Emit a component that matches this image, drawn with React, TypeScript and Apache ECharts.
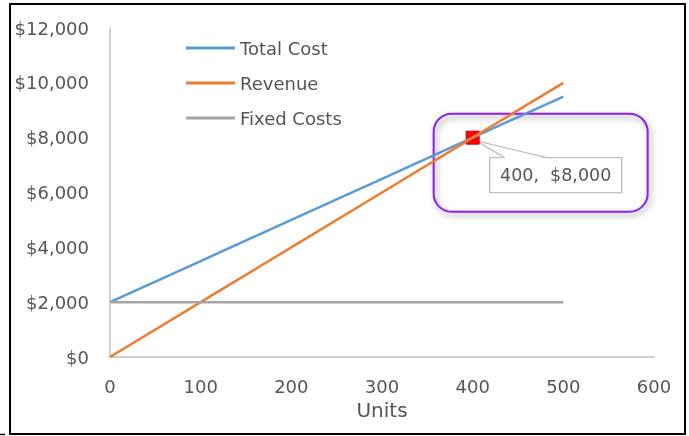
import React, { useEffect, useRef } from "react";
import * as echarts from "echarts";

const units = [0, 100, 200, 300, 400, 500];
const totalCost = [2000, 3500, 5000, 6500, 8000, 9500];
const revenue = [0, 2000, 4000, 6000, 8000, 10000];
const fixedCosts = [2000, 2000, 2000, 2000, 2000, 2000];
const breakEven = [400, 8000];
const seriesNames = ["Total Cost", "Revenue", "Fixed Costs"];
const colors = ["#5b9bd5", "#ed7d31", "#a5a5a5"];

const FONT = "DejaVu Sans";
const TXT = "#555555";

const fmtMoney = (v: number) => "$" + v.toLocaleString("en-US");

export default function App() {
  const ref = useRef<HTMLDivElement>(null);
  useEffect(() => {
    if (!ref.current) return;
    const chart = echarts.init(ref.current, null, { renderer: "svg" });
    const pair = (ys: number[]) => units.map((u, i) => [u, ys[i]]);
    chart.setOption({
      animation: false,
      grid: { left: 110, right: 35, top: 28, bottom: 79 },
      legend: {
        orient: "vertical",
        left: 186,
        top: 37.5,
        padding: 0,
        icon: "rect",
        itemWidth: 49,
        itemHeight: 3,
        itemGap: 14,
        data: seriesNames,
        textStyle: { fontFamily: FONT, fontSize: 18, color: TXT, lineHeight: 21 },
      },
      xAxis: {
        type: "value",
        min: 0,
        max: 600,
        interval: 100,
        name: "Units",
        nameLocation: "middle",
        nameGap: 42,
        nameTextStyle: { fontFamily: FONT, fontSize: 20, color: TXT },
        axisLine: { lineStyle: { color: "#bfbfbf", width: 1.5 } },
        axisTick: { show: false },
        splitLine: { show: false },
        axisLabel: { fontFamily: FONT, fontSize: 18, color: TXT, margin: 20 },
      },
      yAxis: {
        type: "value",
        min: 0,
        max: 12000,
        interval: 2000,
        axisLine: { show: true, lineStyle: { color: "#bfbfbf", width: 1.5 } },
        axisTick: { show: false },
        splitLine: { show: false },
        axisLabel: {
          fontFamily: FONT,
          fontSize: 18,
          color: TXT,
          margin: 21,
          formatter: (v: number) => fmtMoney(v),
        },
      },
      series: [
        {
          name: seriesNames[0],
          type: "line",
          data: pair(totalCost),
          symbol: "none",
          lineStyle: { color: colors[0], width: 2.5 },
          itemStyle: { color: colors[0] },
        },
        {
          name: seriesNames[1],
          type: "line",
          data: pair(revenue),
          symbol: "none",
          lineStyle: { color: colors[1], width: 2.5 },
          itemStyle: { color: colors[1] },
        },
        {
          name: seriesNames[2],
          type: "line",
          data: pair(fixedCosts),
          symbol: "none",
          lineStyle: { color: colors[2], width: 2.5 },
          itemStyle: { color: colors[2] },
        },
      ],
    });

    const [px, py] = chart.convertToPixel({ gridIndex: 0 }, breakEven) as number[];
    const boxL = px + 17;
    const boxT = py + 20;
    const boxW = 132;
    const boxH = 35;
    chart.setOption({
      graphic: [
        {
          type: "rect",
          shape: { x: 10, y: 4, width: 675, height: 430 },
          style: { fill: "none", stroke: "#000", lineWidth: 2 },
          silent: true,
        },
        {
          type: "line",
          shape: { x1: 0, y1: 434.5, x2: 5, y2: 434.5 },
          style: { stroke: "#000", lineWidth: 1.5 },
          silent: true,
        },
        {
          type: "rect",
          shape: { x: px - 39, y: py - 24, width: 214, height: 98, r: 18 },
          style: {
            fill: "none",
            stroke: "#8a1cf5",
            lineWidth: 2,
            shadowBlur: 6,
            shadowColor: "rgba(0,0,0,0.45)",
            shadowOffsetX: 2,
            shadowOffsetY: 3,
          },
          silent: true,
        },
        {
          type: "rect",
          shape: { x: boxL, y: boxT, width: boxW, height: boxH },
          style: { fill: "#fff", stroke: "#bfbfbf", lineWidth: 1.3 },
          silent: true,
        },
        {
          type: "polygon",
          shape: {
            points: [
              [px + 3, py + 3],
              [boxL + 57, boxT + 1],
              [boxL + 15, boxT + 1],
            ],
          },
          style: { fill: "#fff" },
          silent: true,
        },
        {
          type: "polyline",
          shape: {
            points: [
              [boxL + 15, boxT],
              [px + 3, py + 3],
              [boxL + 57, boxT],
            ],
          },
          style: { fill: "none", stroke: "#bfbfbf", lineWidth: 1.3 },
          silent: true,
        },
        {
          type: "text",
          x: boxL + boxW / 2,
          y: boxT + boxH / 2,
          style: {
            text: breakEven[0] + ",  " + fmtMoney(breakEven[1]),
            fontFamily: FONT,
            fontSize: 17.5,
            fill: TXT,
            align: "center",
            verticalAlign: "middle",
          },
          silent: true,
        },
        {
          type: "rect",
          shape: { x: px - 6.5, y: py - 6.5, width: 13, height: 13 },
          style: { fill: "#ff0000", stroke: "#d00000", lineWidth: 1 },
          silent: true,
        },
      ],
    });
    return () => chart.dispose();
  }, []);
  return (
    <div
      ref={ref}
      style={{ position: "fixed", left: 0, top: 0, width: 689, height: 436 }}
    />
  );
}
